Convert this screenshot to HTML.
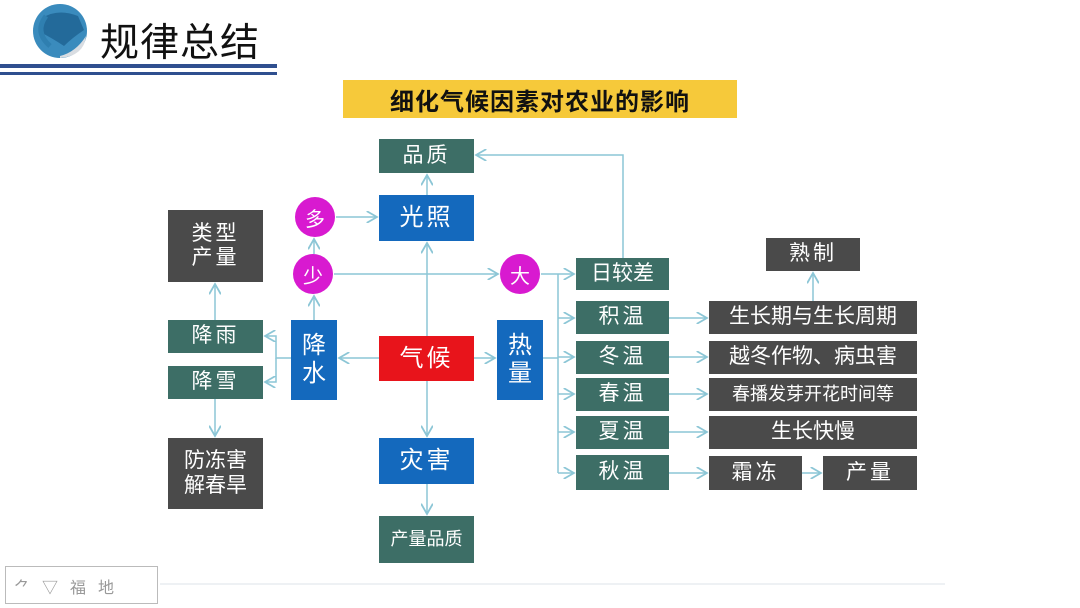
<!DOCTYPE html>
<html><head><meta charset="utf-8"><style>
html,body{margin:0;padding:0}
body{width:1080px;height:608px;position:relative;background:#fff;overflow:hidden;font-family:"Liberation Sans","Noto Sans CJK SC",sans-serif}
.b{position:absolute;color:#fff;display:flex;align-items:center;justify-content:center;text-align:center;font-size:21px;letter-spacing:3px;line-height:1.15}
.t{background:#3d6e66}.d{background:#4a4a4a}.u{background:#1469bd}.r{background:#e8141b}
.c{position:absolute;width:40px;height:40px;border-radius:50%;background:#d81ad0;color:#fff;display:flex;align-items:center;justify-content:center;font-size:20px}
svg{position:absolute;left:0;top:0}
</style></head><body>
<svg width="1080" height="608">
<defs><marker id="a" markerWidth="8" markerHeight="8" refX="7" refY="4" orient="auto"><path d="M0,0 L7,4 L0,8" fill="none" stroke="#8cc6d6" stroke-width="1.2"/></marker></defs>
<circle cx="60" cy="31" r="27" fill="#3a8bbd"/>
<path d="M42,18 Q58,8 78,16 L84,30 Q72,38 64,46 Q52,38 40,32Z" fill="#236a9a"/>
<path d="M60,56 Q76,52 86,36 Q84,56 60,58Z" fill="#d9dde2"/>
<path d="M50,46 Q34,32 46,16" stroke="#2f7fb0" stroke-width="5" fill="none"/>
<rect x="0" y="64" width="277" height="4" fill="#2f4f8f"/>
<rect x="0" y="72" width="277" height="3" fill="#2f4f8f"/>
<g stroke="#8cc6d6" stroke-width="1.5" fill="none">
<line x1="427" y1="336" x2="427" y2="243" marker-end="url(#a)"/>
<line x1="427" y1="195" x2="427" y2="175" marker-end="url(#a)"/>
<line x1="427" y1="381" x2="427" y2="436" marker-end="url(#a)"/>
<line x1="427" y1="484" x2="427" y2="514" marker-end="url(#a)"/>
<line x1="379" y1="358" x2="339" y2="358" marker-end="url(#a)"/>
<line x1="474" y1="358" x2="495" y2="358" marker-end="url(#a)"/>
<line x1="314" y1="320" x2="314" y2="296" marker-end="url(#a)"/>
<line x1="314" y1="254" x2="314" y2="239" marker-end="url(#a)"/>
<line x1="336" y1="217" x2="377" y2="217" marker-end="url(#a)"/>
<line x1="334" y1="274" x2="498" y2="274" marker-end="url(#a)"/>
<line x1="541" y1="274" x2="574" y2="274" marker-end="url(#a)"/>
<polyline points="623,258 623,155 476,155" marker-end="url(#a)"/>
<polyline points="291,358 276,358 276,336 265,336" marker-end="url(#a)"/>
<polyline points="276,358 276,382 265,382" marker-end="url(#a)"/>
<line x1="215" y1="320" x2="215" y2="284" marker-end="url(#a)"/>
<line x1="215" y1="399" x2="215" y2="436" marker-end="url(#a)"/>
<line x1="543" y1="358" x2="558" y2="358"/>
<line x1="558" y1="274" x2="558" y2="473"/>
<line x1="558" y1="318" x2="574" y2="318" marker-end="url(#a)"/>
<line x1="558" y1="357" x2="574" y2="357" marker-end="url(#a)"/>
<line x1="558" y1="394" x2="574" y2="394" marker-end="url(#a)"/>
<line x1="558" y1="432" x2="574" y2="432" marker-end="url(#a)"/>
<line x1="558" y1="473" x2="574" y2="473" marker-end="url(#a)"/>
<line x1="669" y1="318" x2="707" y2="318" marker-end="url(#a)"/>
<line x1="669" y1="357" x2="707" y2="357" marker-end="url(#a)"/>
<line x1="669" y1="394" x2="707" y2="394" marker-end="url(#a)"/>
<line x1="669" y1="432" x2="707" y2="432" marker-end="url(#a)"/>
<line x1="669" y1="473" x2="707" y2="473" marker-end="url(#a)"/>
<line x1="802" y1="473" x2="821" y2="473" marker-end="url(#a)"/>
<line x1="813" y1="301" x2="813" y2="273" marker-end="url(#a)"/>
</g>
<line x1="160" y1="584" x2="945" y2="584" stroke="#dde3e8" stroke-width="1"/>
<rect x="5.5" y="566.5" width="152" height="37" fill="#fff" stroke="#bbb"/>
</svg>
<div style="position:absolute;left:100px;top:12px;font-size:39px;color:#111;letter-spacing:1px">规律总结</div>
<div style="position:absolute;left:343px;top:80px;width:394px;height:38px;background:#f6c93a;display:flex;align-items:center;justify-content:center;font-size:24px;font-weight:bold;color:#111;letter-spacing:1px">细化气候因素对农业的影响</div>
<div class="b t" style="left:379px;top:139px;width:95px;height:34px">品质</div>
<div class="b u" style="left:379px;top:195px;width:95px;height:46px;font-size:24px">光照</div>
<div class="c" style="left:295px;top:197px">多</div>
<div class="c" style="left:293px;top:254px">少</div>
<div class="c" style="left:500px;top:254px">大</div>
<div class="b d" style="left:168px;top:210px;width:95px;height:72px">类型<br>产量</div>
<div class="b t" style="left:168px;top:320px;width:95px;height:33px">降雨</div>
<div class="b t" style="left:168px;top:366px;width:95px;height:33px">降雪</div>
<div class="b u" style="left:291px;top:320px;width:46px;height:80px;font-size:24px;letter-spacing:0">降<br>水</div>
<div class="b r" style="left:379px;top:336px;width:95px;height:45px;font-size:24px">气候</div>
<div class="b u" style="left:497px;top:320px;width:46px;height:80px;font-size:24px;letter-spacing:0">热<br>量</div>
<div class="b u" style="left:379px;top:438px;width:95px;height:46px;font-size:24px">灾害</div>
<div class="b t" style="left:379px;top:516px;width:95px;height:47px;font-size:18px;letter-spacing:0">产量品质</div>
<div class="b d" style="left:168px;top:438px;width:95px;height:71px;letter-spacing:0">防冻害<br>解春旱</div>
<div class="b t" style="left:576px;top:258px;width:93px;height:32px;letter-spacing:0">日较差</div>
<div class="b t" style="left:576px;top:301px;width:93px;height:33px">积温</div>
<div class="b t" style="left:576px;top:341px;width:93px;height:33px">冬温</div>
<div class="b t" style="left:576px;top:378px;width:93px;height:33px">春温</div>
<div class="b t" style="left:576px;top:416px;width:93px;height:33px">夏温</div>
<div class="b t" style="left:576px;top:455px;width:93px;height:35px">秋温</div>
<div class="b d" style="left:766px;top:238px;width:94px;height:33px">熟制</div>
<div class="b d" style="left:709px;top:301px;width:208px;height:33px;letter-spacing:0">生长期与生长周期</div>
<div class="b d" style="left:709px;top:341px;width:208px;height:33px;letter-spacing:0">越冬作物、病虫害</div>
<div class="b d" style="left:709px;top:378px;width:208px;height:33px;font-size:18px;letter-spacing:0">春播发芽开花时间等</div>
<div class="b d" style="left:709px;top:416px;width:208px;height:33px;letter-spacing:0">生长快慢</div>
<div class="b d" style="left:709px;top:456px;width:93px;height:34px">霜冻</div>
<div class="b d" style="left:823px;top:456px;width:94px;height:34px">产量</div>
<div style="position:absolute;left:14px;top:574px;font-size:16px;color:#999;letter-spacing:12px;white-space:nowrap">⺈▽福地</div>
</body></html>
